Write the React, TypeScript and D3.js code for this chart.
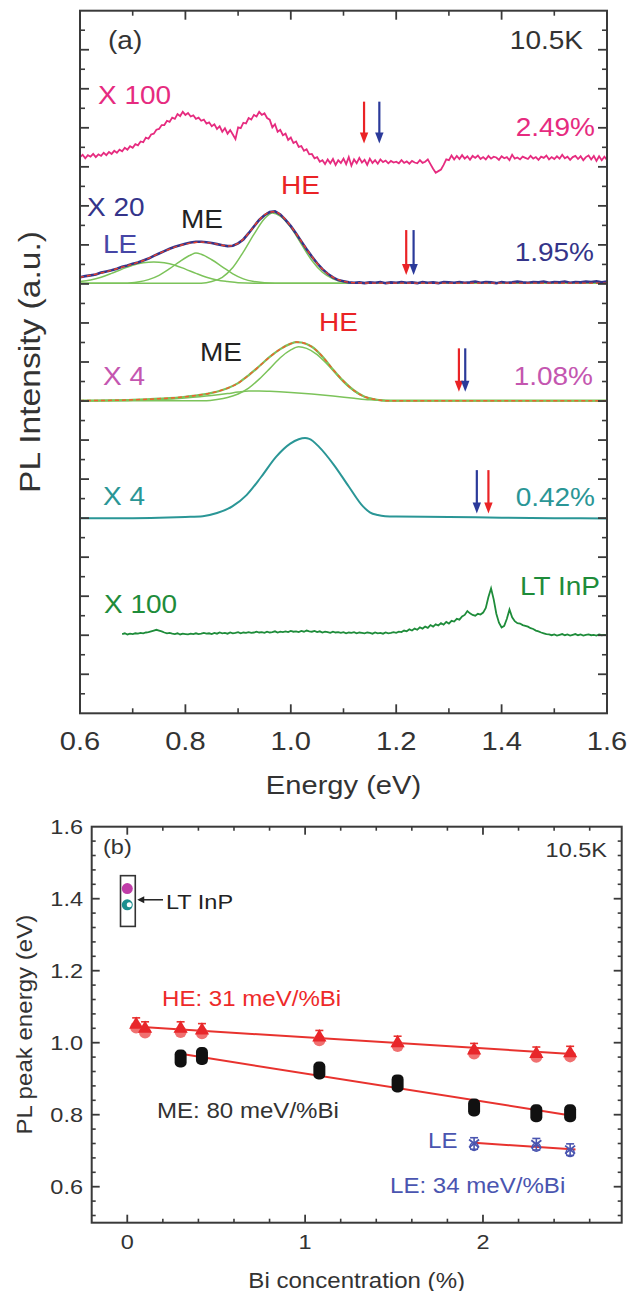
import React from 'react';
import * as d3 from 'd3';

// ---------------- Panel (a) data ----------------
// offsets (a.u.) of each spectrum in the stacked plot
const OFFSETS = [14.15, 11.02, 8.01, 5.0, 2.0];
const A_X_TICKS = [0.6, 0.8, 1.0, 1.2, 1.4, 1.6];

// 2.49% Bi, x100 (E from 0.600, step 0.005)
const PL_249_E0 = 0.6;
const PL_249_STEP = 0.005;
const PL_249 = [
  0.10,0.16,0.07,0.15,0.11,0.18,0.10,0.17,0.13,0.21,
  0.15,0.23,0.18,0.26,0.21,0.29,0.25,0.34,0.29,0.38,
  0.34,0.43,0.40,0.50,0.48,0.60,0.57,0.68,0.70,0.80,
  0.82,0.92,0.92,1.03,1.00,1.11,1.08,1.20,1.15,1.26,
  1.18,1.23,1.14,1.17,1.08,1.11,1.03,1.06,0.96,0.99,
  0.89,0.94,0.82,0.89,0.75,0.84,0.70,0.79,0.68,0.56,
  0.86,0.84,0.98,0.96,1.10,1.06,1.18,1.14,1.26,1.18,
  1.22,1.10,1.06,0.86,0.94,0.75,0.80,0.66,0.70,0.54,
  0.60,0.46,0.50,0.36,0.38,0.26,0.30,0.17,0.18,0.07,
  0.10,-0.02,0.02,-0.08,0.04,-0.06,0.05,-0.10,0.02,-0.05,
  0.06,-0.08,0.10,-0.12,0.04,-0.06,0.08,-0.04,0.03,-0.10,
  0.06,-0.05,0.02,-0.07,0.04,-0.03,0.01,-0.06,0.00,-0.04,
  -0.02,-0.06,0.02,-0.05,-0.01,-0.07,0.00,-0.04,-0.06,0.02,
  -0.05,-0.02,0.04,-0.08,-0.20,-0.30,-0.26,-0.22,-0.10,0.04,
  0.02,0.14,0.04,0.13,0.05,0.15,0.06,0.12,0.03,0.13,
  0.08,0.14,0.05,0.10,0.04,0.13,0.06,0.11,0.09,0.03,
  0.12,0.07,0.10,0.02,0.16,0.06,0.09,0.04,0.11,0.08,
  0.05,0.13,0.06,0.10,0.03,0.11,0.08,0.14,0.04,0.10,
  0.05,0.12,0.06,0.16,0.07,0.11,0.03,0.10,0.13,0.05,
  0.12,0.02,0.10,0.14,0.04,0.13,0.00,0.12,0.02,0.11,
  0.03,
];

// 1.95% Bi, x20 (E from 0.60, step 0.01)
const PL_195_E0 = 0.6;
const PL_195_STEP = 0.01;
const PL_195 = [
  0.15,0.18,0.20,0.22,0.27,0.30,0.33,0.37,0.42,0.45,
  0.50,0.53,0.58,0.63,0.70,0.76,0.82,0.88,0.93,0.97,
  1.01,1.04,1.06,1.06,1.05,1.03,1.00,0.97,0.95,0.96,
  1.02,1.12,1.28,1.45,1.62,1.74,1.82,1.84,1.76,1.62,
  1.46,1.27,1.07,0.87,0.68,0.51,0.36,0.24,0.15,0.08,
  0.05,0.02,0.01,0.02,0.00,0.02,0.01,0.03,0.00,0.02,
  0.01,0.03,0.01,0.02,0.00,0.03,0.01,0.02,0.00,0.03,
  0.02,0.01,0.03,0.01,0.02,0.04,0.01,0.03,0.02,0.00,
  0.03,0.01,0.02,0.04,0.02,0.01,0.03,0.02,0.04,0.01,
  0.03,0.02,0.04,0.01,0.03,0.02,0.04,0.03,0.05,0.02,
  0.04,
];
const FIT_195 = [[0.6,0.15],[0.64,0.26],[0.68,0.41],[0.72,0.58],[0.76,0.82],[0.8,1.0],[0.83,1.05],[0.86,1.0],[0.88,0.95],[0.9,1.02],[0.92,1.28],[0.94,1.62],[0.96,1.82],[0.97,1.83],[0.98,1.76],[1.0,1.46],[1.02,1.07],[1.04,0.68],[1.06,0.36],[1.08,0.15],[1.1,0.05],[1.12,0.01],[1.16,0],[1.6,0]];
const LE_195 = [[0.6,0.04],[0.62,0.08],[0.64,0.15],[0.66,0.25],[0.68,0.36],[0.7,0.46],[0.72,0.52],[0.74,0.54],[0.76,0.52],[0.78,0.46],[0.8,0.36],[0.82,0.25],[0.84,0.15],[0.86,0.08],[0.88,0.04],[0.9,0.01],[0.93,0],[1.6,0]];
const ME_195 = [[0.6,0],[0.69,0],[0.71,0.03],[0.73,0.09],[0.75,0.2],[0.77,0.37],[0.79,0.56],[0.81,0.72],[0.82,0.77],[0.83,0.74],[0.85,0.6],[0.87,0.42],[0.89,0.24],[0.91,0.11],[0.93,0.04],[0.95,0.01],[0.97,0],[1.6,0]];
const HE_195 = [[0.6,0],[0.83,0],[0.85,0.04],[0.87,0.15],[0.89,0.4],[0.91,0.8],[0.93,1.25],[0.95,1.65],[0.965,1.8],[0.98,1.72],[1.0,1.43],[1.02,1.0],[1.04,0.58],[1.06,0.28],[1.08,0.11],[1.1,0.03],[1.12,0],[1.6,0]];

// 1.08% Bi, x4
const FIT_108 = [[0.6,0],[0.7,0.02],[0.75,0.05],[0.8,0.1],[0.85,0.2],[0.88,0.32],[0.9,0.45],[0.92,0.65],[0.94,0.88],[0.96,1.12],[0.98,1.32],[1.0,1.46],[1.01,1.5],[1.02,1.49],[1.04,1.38],[1.06,1.13],[1.08,0.8],[1.1,0.5],[1.12,0.26],[1.14,0.1],[1.16,0.03],[1.18,0],[1.6,0]];
const HE_108 = [[0.6,0],[0.84,0],[0.86,0.03],[0.88,0.08],[0.9,0.17],[0.92,0.32],[0.94,0.55],[0.96,0.82],[0.98,1.1],[1.0,1.3],[1.015,1.38],[1.03,1.34],[1.05,1.18],[1.07,0.92],[1.09,0.62],[1.11,0.35],[1.13,0.16],[1.15,0.06],[1.17,0.01],[1.19,0],[1.6,0]];
const ME_108 = [[0.6,0],[0.7,0.01],[0.75,0.03],[0.8,0.07],[0.85,0.13],[0.88,0.18],[0.9,0.22],[0.92,0.25],[0.94,0.25],[0.96,0.24],[1.0,0.21],[1.04,0.17],[1.08,0.12],[1.12,0.06],[1.15,0.02],[1.18,0],[1.6,0]];

// 0.42% Bi, x4
const PL_042 = [[0.6,0],[0.7,0.0],[0.75,0.01],[0.8,0.03],[0.833,0.05],[0.86,0.13],[0.889,0.3],[0.916,0.59],[0.944,1.06],[0.972,1.57],[0.999,1.91],[1.015,2.02],[1.027,2.05],[1.035,2.03],[1.054,1.82],[1.082,1.36],[1.11,0.81],[1.137,0.3],[1.15,0.15],[1.165,0.08],[1.179,0.05],[1.2,0.04],[1.3,0.03],[1.4,0.01],[1.5,0.0],[1.6,-0.01]];

// LT InP, x100 (E from 0.680, step 0.005)
const PL_INP_E0 = 0.68;
const PL_INP_STEP = 0.005;
const PL_INP = [
  0.03,0.05,0.02,0.04,0.03,0.05,0.04,0.06,0.05,0.07,
  0.08,0.10,0.12,0.14,0.12,0.10,0.07,0.05,0.06,0.04,
  0.03,0.05,0.02,0.04,0.03,0.02,0.04,0.03,0.05,0.03,
  0.04,0.06,0.04,0.05,0.03,0.06,0.04,0.07,0.05,0.06,
  0.04,0.07,0.05,0.06,0.08,0.05,0.07,0.06,0.08,0.06,
  0.07,0.09,0.07,0.08,0.06,0.09,0.07,0.08,0.10,0.07,
  0.09,0.08,0.10,0.08,0.11,0.09,0.10,0.08,0.11,0.09,
  0.12,0.10,0.09,0.11,0.08,0.10,0.07,0.09,0.08,0.06,
  0.09,0.07,0.08,0.06,0.08,0.05,0.07,0.06,0.08,0.05,
  0.07,0.06,0.05,0.07,0.06,0.04,0.07,0.05,0.06,0.04,
  0.07,0.05,0.06,0.08,0.06,0.09,0.08,0.12,0.10,0.15,
  0.12,0.17,0.14,0.20,0.17,0.22,0.19,0.26,0.22,0.28,
  0.25,0.31,0.27,0.34,0.30,0.37,0.35,0.42,0.40,0.48,
  0.52,0.62,0.56,0.52,0.50,0.55,0.53,0.58,0.70,0.98,
  1.20,0.92,0.55,0.32,0.20,0.24,0.42,0.66,0.46,0.36,
  0.31,0.30,0.26,0.24,0.22,0.18,0.16,0.12,0.10,0.07,
  0.05,0.03,0.02,0.00,0.02,-0.01,0.01,0.03,0.00,0.02,
  -0.01,0.01,0.03,0.00,0.02,-0.01,0.01,0.02,0.00,0.01,
  -0.01,0.02,0.00,0.01,0.00,
];

// band-edge arrows (E positions, a.u. heights)
const ARROW_E_RED = [1.139, 1.219, 1.319, 1.375];
const ARROW_E_BLUE = [1.168, 1.233, 1.331, 1.353];
const ARROW_TOP = [15.67, 12.38, 9.35, 6.23];
const ARROW_BOTTOM = [14.6, 11.23, 8.24, 5.12];

// ---------------- Panel (b) data ----------------
const BI_HE = [0.05, 0.1, 0.3, 0.42, 1.08, 1.52, 1.95, 2.3, 2.49];
const HE_PEAK = [1.052, 1.041, 1.041, 1.036, 1.017, 1.001, 0.981, 0.971, 0.973];
const HE_PEAK2 = [1.042, 1.028, 1.030, 1.026, 1.007, 0.991, 0.970, 0.961, 0.962];
const BI_ME = [0.3, 0.42, 1.08, 1.52, 1.95, 2.3, 2.49];
const ME_PEAK = [0.956, 0.963, 0.923, 0.887, 0.820, 0.804, 0.804];
const BI_LE = [1.95, 2.3, 2.49];
const LE_PEAK = [0.720, 0.718, 0.703];
const HE_FIT = [[0.04, 1.045], [2.52, 0.968]];
const ME_FIT = [[0.3, 0.969], [2.52, 0.796]];
const LE_FIT = [[1.95, 0.722], [2.52, 0.703]];
const INP_X = 0.0;
const INP_PEAKS = [1.428, 1.383];
const INP_BOX = [[-0.038, 0.045], [1.323, 1.464]];
const B_Y_TICKS = [0.6, 0.8, 1.0, 1.2, 1.4, 1.6];
const B_X_TICKS = [0, 1, 2];

const FONT = "'Liberation Sans', Arial, Helvetica, sans-serif";
const SX = 1.12;

type TP = { x: number; y: number; size?: number; fill?: string; anchor?: string; rotate?: number; children: any };
function T({ x, y, size = 25, fill = '#333', anchor = 'start', rotate = 0, children }: TP) {
  return (
    <text
      transform={`translate(${x},${y})${rotate ? ` rotate(${rotate})` : ''} scale(${SX},1)`}
      textAnchor={anchor as any}
      dominantBaseline="central"
      fontSize={size}
      fill={fill}
      fontFamily={FONT}
    >
      {children}
    </text>
  );
}

export default function App() {
  // ----- scales panel (a)
  const aL = 80, aR = 607, aT = 10.7, aB = 713.3;
  const xA = d3.scaleLinear().domain([0.6, 1.6]).range([aL, aR]);
  const yA = d3.scaleLinear().domain([0, 18]).range([aB, aT]);
  const grid = (vals: number[], e0: number, step: number) => vals.map((v, i) => [e0 + i * step, v] as [number, number]);
  const lineA = (off: number, curve: any = d3.curveLinear) =>
    d3.line<any>().x((d) => xA(d[0])).y((d) => yA(d[1] + off)).curve(curve);

  // ----- scales panel (b)
  const bL = 91.7, bR = 621.7, bT = 826.7, bB = 1222.7;
  const xB = d3.scaleLinear().domain([-0.2, 2.78]).range([bL, bR]);
  const yB = d3.scaleLinear().domain([0.5, 1.6]).range([bB, bT]);
  const lineB = d3.line<any>().x((d) => xB(d[0])).y((d) => yB(d[1]));

  const frame = '#3a3a3a';
  const pink = '#e62b7f';
  const navy = '#34348a';
  const magenta = '#c456b0';
  const teal = '#2a9696';
  const green = '#1e8c3a';
  const lgreen = '#7cc35a';
  const redFit = '#e8402a';
  const orangeFit = '#f0602e';
  const red = '#ea2326';
  const blue = '#2b3a9a';

  const smooth = d3.curveMonotoneX;

  const aXMinor = d3.range(0.7, 1.6, 0.2);
  const aYMajor = d3.range(1, 18, 1);
  const aYMinor = d3.range(0.5, 18, 1);

  const bXMinor = d3.range(1, 14).map((i) => i * 0.2).filter((v) => Math.abs(v - Math.round(v)) > 1e-6);
  const bXMajor = B_X_TICKS;
  const bYMinor = d3.range(0, 27).map((i) => 0.52 + i * 0.04).filter((v) => Math.abs(v * 5 - Math.round(v * 5)) > 1e-6 && v < 1.6);
  const bYMajor = [0.6, 0.8, 1.0, 1.2, 1.4];

  const arrow = (e: number, top: number, bottom: number, color: string, key: string) => {
    const x = xA(e);
    const y1 = yA(top);
    const y2 = yA(bottom);
    return (
      <g key={key}>
        <line x1={x} x2={x} y1={y1} y2={y2 - 9} stroke={color} strokeWidth={2.2} />
        <path d={`M${x - 4.2},${y2 - 11} L${x + 4.2},${y2 - 11} L${x},${y2} Z`} fill={color} />
      </g>
    );
  };

  const errBar = (x: number, y: number, d: number, color: string, key: string) => {
    const px = xB(x);
    return (
      <g key={key} stroke={color} strokeWidth={1.6}>
        <line x1={px} x2={px} y1={yB(y - d)} y2={yB(y + d)} />
        <line x1={px - 4} x2={px + 4} y1={yB(y - d)} y2={yB(y - d)} />
        <line x1={px - 4} x2={px + 4} y1={yB(y + d)} y2={yB(y + d)} />
      </g>
    );
  };

  const tri = (cx: number, cy: number, r: number) =>
    `M${cx},${cy - r} L${cx + r * 0.95},${cy + r * 0.65} L${cx - r * 0.95},${cy + r * 0.65} Z`;

  return (
    <div style={{ position: 'absolute', left: 0, top: 0 }}>
      <svg width={628} height={1291} style={{ display: 'block', background: '#fff' }}>
        {/* =================== Panel (a) =================== */}
        {/* 2.49% */}
        <path d={lineA(OFFSETS[0])(grid(PL_249, PL_249_E0, PL_249_STEP)) || ''} fill="none" stroke={pink} strokeWidth={1.8} />
        {/* 1.95% */}
        {[LE_195, ME_195, HE_195].map((c, i) => (
          <path key={'g195' + i} d={lineA(OFFSETS[1], smooth)(c) || ''} fill="none" stroke={lgreen} strokeWidth={1.5} />
        ))}
        <path d={lineA(OFFSETS[1])(grid(PL_195, PL_195_E0, PL_195_STEP)) || ''} fill="none" stroke={navy} strokeWidth={2.6} />
        <path d={lineA(OFFSETS[1], smooth)(FIT_195) || ''} fill="none" stroke={redFit} strokeWidth={1.4} strokeDasharray="4,3" />
        {/* 1.08% */}
        {[ME_108, HE_108].map((c, i) => (
          <path key={'g108' + i} d={lineA(OFFSETS[2], smooth)(c) || ''} fill="none" stroke={lgreen} strokeWidth={1.5} />
        ))}
        <path d={lineA(OFFSETS[2], smooth)(FIT_108) || ''} fill="none" stroke={lgreen} strokeWidth={2.2} />
        <path d={lineA(OFFSETS[2], smooth)(FIT_108) || ''} fill="none" stroke={orangeFit} strokeWidth={1.5} strokeDasharray="4,3" />
        {/* 0.42% */}
        <path d={lineA(OFFSETS[3], smooth)(PL_042) || ''} fill="none" stroke={teal} strokeWidth={2} />
        {/* LT InP */}
        <path d={lineA(OFFSETS[4])(grid(PL_INP, PL_INP_E0, PL_INP_STEP)) || ''} fill="none" stroke={green} strokeWidth={1.8} />

        {/* arrows */}
        {ARROW_E_RED.map((e, i) => arrow(e, ARROW_TOP[i], ARROW_BOTTOM[i], red, 'ar' + i))}
        {ARROW_E_BLUE.map((e, i) => arrow(e, ARROW_TOP[i], ARROW_BOTTOM[i], blue, 'ab' + i))}

        {/* frame (a) */}
        <rect x={aL} y={aT} width={aR - aL} height={aB - aT} fill="none" stroke={frame} strokeWidth={2} />
        {A_X_TICKS.map((v) => (
          <g key={'axt' + v} stroke={frame} strokeWidth={1.8}>
            <line x1={xA(v)} x2={xA(v)} y1={aB} y2={aB - 9} />
            <line x1={xA(v)} x2={xA(v)} y1={aT} y2={aT + 9} />
          </g>
        ))}
        {aXMinor.map((v) => (
          <g key={'axm' + v} stroke={frame} strokeWidth={1.6}>
            <line x1={xA(v)} x2={xA(v)} y1={aB} y2={aB - 5} />
            <line x1={xA(v)} x2={xA(v)} y1={aT} y2={aT + 5} />
          </g>
        ))}
        {aYMajor.map((v) => (
          <g key={'aym' + v} stroke={frame} strokeWidth={1.8}>
            <line x1={aL} x2={aL + 9} y1={yA(v)} y2={yA(v)} />
            <line x1={aR} x2={aR - 9} y1={yA(v)} y2={yA(v)} />
          </g>
        ))}
        {aYMinor.map((v) => (
          <g key={'ayn' + v} stroke={frame} strokeWidth={1.6}>
            <line x1={aL} x2={aL + 5} y1={yA(v)} y2={yA(v)} />
            <line x1={aR} x2={aR - 5} y1={yA(v)} y2={yA(v)} />
          </g>
        ))}
        {A_X_TICKS.map((v) => (
          <T key={'axl' + v} x={xA(v)} y={741} size={26} anchor="middle">
            {d3.format('.1f')(v)}
          </T>
        ))}
        <T x={(aL + aR) / 2} y={785} size={26} anchor="middle">Energy (eV)</T>
        <T x={30} y={(aT + aB) / 2} size={30} anchor="middle" rotate={-90}>PL Intensity (a.u.)</T>

        {/* annotations (a) */}
        <T x={108} y={41} size={25}>(a)</T>
        <T x={583} y={41} size={25} anchor="end">10.5K</T>
        <T x={98} y={96} size={25} fill={pink}>X 100</T>
        <T x={595} y={128} size={25} fill={pink} anchor="end">2.49%</T>
        <T x={281} y={186} size={25} fill={red}>HE</T>
        <T x={87} y={208} size={25} fill={navy}>X 20</T>
        <T x={181} y={220} size={25} fill="#222">ME</T>
        <T x={103} y={245} size={25} fill="#4646a6">LE</T>
        <T x={594} y={253} size={25} fill={navy} anchor="end">1.95%</T>
        <T x={319} y={323} size={25} fill={red}>HE</T>
        <T x={200} y={353} size={25} fill="#222">ME</T>
        <T x={103} y={377} size={25} fill={magenta}>X 4</T>
        <T x={593} y={377} size={25} fill={magenta} anchor="end">1.08%</T>
        <T x={103} y={497} size={25} fill={teal}>X 4</T>
        <T x={595} y={498} size={25} fill={teal} anchor="end">0.42%</T>
        <T x={104} y={605} size={25} fill={green}>X 100</T>
        <T x={600} y={587} size={25} fill={green} anchor="end">LT InP</T>

        {/* =================== Panel (b) =================== */}
        {/* fits */}
        <path d={lineB(HE_FIT) || ''} stroke="#e8322e" strokeWidth={2} fill="none" />
        <path d={lineB(ME_FIT) || ''} stroke="#e8322e" strokeWidth={2} fill="none" />
        <path d={lineB(LE_FIT) || ''} stroke="#e8322e" strokeWidth={2} fill="none" />

        {/* HE points */}
        {BI_HE.map((b, i) => (
          <g key={'he' + i}>
            {errBar(b, HE_PEAK[i], 0.017, '#e8322e', 'hee' + i)}
            <circle cx={xB(b)} cy={yB(HE_PEAK2[i])} r={6} fill="#f07070" />
            <path d={tri(xB(b), yB(HE_PEAK[i]), 7.5)} fill="#e8262a" />
          </g>
        ))}
        {/* ME points */}
        {BI_ME.map((b, i) => (
          <g key={'me' + i}>
            {errBar(b, ME_PEAK[i], 0.014, '#111', 'mee' + i)}
            <rect x={xB(b) - 6} y={yB(ME_PEAK[i]) - 9} width={12} height={18} rx={5} fill="#111" />
          </g>
        ))}
        {/* LE points */}
        {BI_LE.map((b, i) => (
          <g key={'le' + i}>
            {errBar(b, LE_PEAK[i], 0.016, '#4a55b0', 'lee' + i)}
            <circle cx={xB(b)} cy={yB(LE_PEAK[i]) + 3} r={4} fill="none" stroke="#4a55b0" strokeWidth={1.5} />
            <path
              d={`M${xB(b) - 5},${yB(LE_PEAK[i]) - 4} L${xB(b) + 5},${yB(LE_PEAK[i]) + 4} M${xB(b) + 5},${yB(LE_PEAK[i]) - 4} L${xB(b) - 5},${yB(LE_PEAK[i]) + 4}`}
              stroke="#4a55b0"
              strokeWidth={1.8}
            />
          </g>
        ))}

        {/* LT InP box */}
        <rect
          x={xB(INP_BOX[0][0])}
          y={yB(INP_BOX[1][1])}
          width={xB(INP_BOX[0][1]) - xB(INP_BOX[0][0])}
          height={yB(INP_BOX[1][0]) - yB(INP_BOX[1][1])}
          fill="none"
          stroke="#333"
          strokeWidth={1.6}
        />
        <circle cx={xB(INP_X)} cy={yB(INP_PEAKS[0])} r={5.5} fill="#c03ca8" />
        <circle cx={xB(INP_X)} cy={yB(INP_PEAKS[1])} r={5.5} fill="#1d8f8f" />
        <circle cx={xB(INP_X) + 2} cy={yB(INP_PEAKS[1])} r={2.5} fill="#fff" />
        <line x1={xB(INP_BOX[0][1]) + 4} x2={163} y1={yB(1.397)} y2={yB(1.397)} stroke="#222" strokeWidth={1.5} />
        <path d={`M${xB(INP_BOX[0][1]) + 2},${yB(1.397)} l7,-3.5 l0,7 Z`} fill="#222" />

        {/* frame (b) */}
        <rect x={bL} y={bT} width={bR - bL} height={bB - bT} fill="none" stroke={frame} strokeWidth={2} />
        {bXMajor.map((v) => (
          <g key={'bxt' + v} stroke={frame} strokeWidth={1.8}>
            <line x1={xB(v)} x2={xB(v)} y1={bB} y2={bB - 8} />
            <line x1={xB(v)} x2={xB(v)} y1={bT} y2={bT + 8} />
          </g>
        ))}
        {bXMinor.map((v) => (
          <g key={'bxm' + v} stroke={frame} strokeWidth={1.6}>
            <line x1={xB(v)} x2={xB(v)} y1={bB} y2={bB - 4} />
            <line x1={xB(v)} x2={xB(v)} y1={bT} y2={bT + 4} />
          </g>
        ))}
        {bYMajor.map((v) => (
          <g key={'byt' + v} stroke={frame} strokeWidth={1.8}>
            <line x1={bL} x2={bL + 8} y1={yB(v)} y2={yB(v)} />
            <line x1={bR} x2={bR - 8} y1={yB(v)} y2={yB(v)} />
          </g>
        ))}
        {bYMinor.map((v) => (
          <g key={'bym' + v} stroke={frame} strokeWidth={1.6}>
            <line x1={bL} x2={bL + 4} y1={yB(v)} y2={yB(v)} />
            <line x1={bR} x2={bR - 4} y1={yB(v)} y2={yB(v)} />
          </g>
        ))}
        {B_Y_TICKS.map((v) => (
          <T key={'byl' + v} x={83} y={yB(v)} size={21} anchor="end">
            {d3.format('.1f')(v)}
          </T>
        ))}
        {B_X_TICKS.map((v) => (
          <T key={'bxl' + v} x={xB(v)} y={1242} size={21} anchor="middle">
            {String(v)}
          </T>
        ))}
        <T x={(bL + bR) / 2} y={1280} size={21.5} anchor="middle">Bi concentration (%)</T>
        <T x={24} y={(bT + bB) / 2} size={21.5} anchor="middle" rotate={-90}>PL peak energy (eV)</T>

        <T x={103} y={847} size={21}>(b)</T>
        <T x={607} y={850} size={21} anchor="end">10.5K</T>
        <T x={166} y={902} size={21} fill="#222">LT InP</T>
        <T x={162} y={998} size={21.5} fill="#ee2a2a">HE: 31 meV/%Bi</T>
        <T x={157} y={1110} size={21.5} fill="#333">ME: 80 meV/%Bi</T>
        <T x={428} y={1140} size={21.5} fill="#4a55b0">LE</T>
        <T x={390} y={1185} size={21.5} fill="#4a55b0">LE: 34 meV/%Bi</T>
      </svg>
    </div>
  );
}
